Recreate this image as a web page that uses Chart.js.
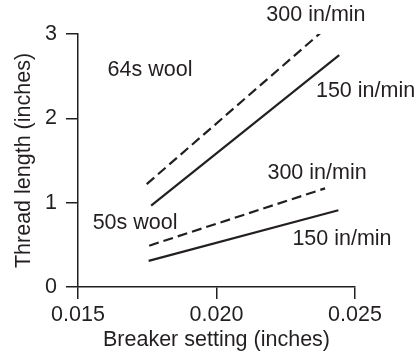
<!DOCTYPE html>
<html>
<head>
<meta charset="utf-8">
<script src="https://cdn.jsdelivr.net/npm/chart.js@4/dist/chart.umd.min.js"></script>
<style>
  html, body { margin: 0; padding: 0; background: #fff; }
  #wrap { width: 417px; height: 355px; }
</style>
</head>
<body>
<div id="wrap"><canvas id="threadChart"></canvas></div>
<script>
// breaker setting (inches) at the two ends of each line
const wool64Fast = [{ x: 0.01748, y: 1.22 }, { x: 0.02385, y: 3.04 }];
const wool64Slow = [{ x: 0.01764, y: 0.965 }, { x: 0.02443, y: 2.75 }];
const wool50Fast = [{ x: 0.01757, y: 0.49 }, { x: 0.02392, y: 1.17 }];
const wool50Slow = [{ x: 0.01755, y: 0.31 }, { x: 0.0244, y: 0.91 }];

const xTicks = [0.015, 0.02, 0.025];
const yTicks = [0, 1, 2, 3];

// text notes, placed in data units
const notes = [
  { text: "300 in/min", x: 0.02359, y: 3.22 },
  { text: "64s wool", x: 0.0176, y: 2.57 },
  { text: "150 in/min", x: 0.02538, y: 2.32 },
  { text: "300 in/min", x: 0.02363, y: 1.355 },
  { text: "50s wool", x: 0.01706, y: 0.755 },
  { text: "150 in/min", x: 0.02453, y: 0.565 },
];

const FONT = "'Liberation Sans', Arial, Helvetica, sans-serif";
const SIZE = 21.5;
const INK = "#231f20";

const notesPlugin = {
  id: "notes",
  afterDatasetsDraw(chart) {
    const ctx = chart.ctx;
    const xs = chart.scales.x;
    const ys = chart.scales.y;
    ctx.save();
    ctx.font = SIZE + "px " + FONT;
    ctx.fillStyle = INK;
    ctx.textAlign = "center";
    ctx.textBaseline = "middle";
    notes.forEach((n) => {
      ctx.fillText(n.text, xs.getPixelForValue(n.x), ys.getPixelForValue(n.y));
    });
    ctx.restore();
  },
};

const line = (data, dashed) => ({
  data: data,
  borderColor: INK,
  borderWidth: 2.2,
  borderDash: dashed ? [10, 5] : [],
  pointRadius: 0,
  fill: false,
  tension: 0,
});

new Chart(document.getElementById("threadChart"), {
  type: "line",
  data: {
    datasets: [
      line(wool64Fast, true),
      line(wool64Slow, false),
      line(wool50Fast, true),
      line(wool50Slow, false),
    ],
  },
  options: {
    responsive: true,
    maintainAspectRatio: false,
    animation: false,
    layout: { padding: { top: 34, right: 62, left: 0, bottom: 0 } },
    plugins: {
      legend: { display: false },
      tooltip: { enabled: false },
    },
    scales: {
      x: {
        type: "linear",
        min: 0.015,
        max: 0.025,
        afterBuildTicks: (scale) => {
          scale.ticks = xTicks.map((v) => ({ value: v }));
        },
        afterFit: (scale) => {
          scale.height = 68;
        },
        ticks: {
          color: INK,
          font: { family: FONT, size: SIZE },
          padding: 3,
          maxRotation: 0,
          callback: (v) => v.toFixed(3),
        },
        grid: {
          drawOnChartArea: false,
          drawTicks: true,
          tickLength: 12,
          color: INK,
          lineWidth: 1.5,
        },
        border: { display: true, color: INK, width: 1.5 },
        title: {
          display: true,
          text: "Breaker setting (inches)",
          color: INK,
          font: { family: FONT, size: SIZE },
          padding: { top: 0, bottom: 2 },
        },
      },
      y: {
        min: 0,
        max: 3,
        afterBuildTicks: (scale) => {
          scale.ticks = yTicks.map((v) => ({ value: v }));
        },
        afterFit: (scale) => {
          scale.width = 78;
        },
        ticks: {
          color: INK,
          font: { family: FONT, size: SIZE },
          padding: 9,
        },
        grid: {
          drawOnChartArea: false,
          drawTicks: true,
          tickLength: 12,
          color: INK,
          lineWidth: 1.5,
        },
        border: { display: true, color: INK, width: 1.5 },
        title: {
          display: true,
          text: "Thread length (inches)",
          color: INK,
          font: { family: FONT, size: SIZE },
          padding: { top: 11, bottom: 0 },
        },
      },
    },
  },
  plugins: [notesPlugin],
});
</script>
</body>
</html>
